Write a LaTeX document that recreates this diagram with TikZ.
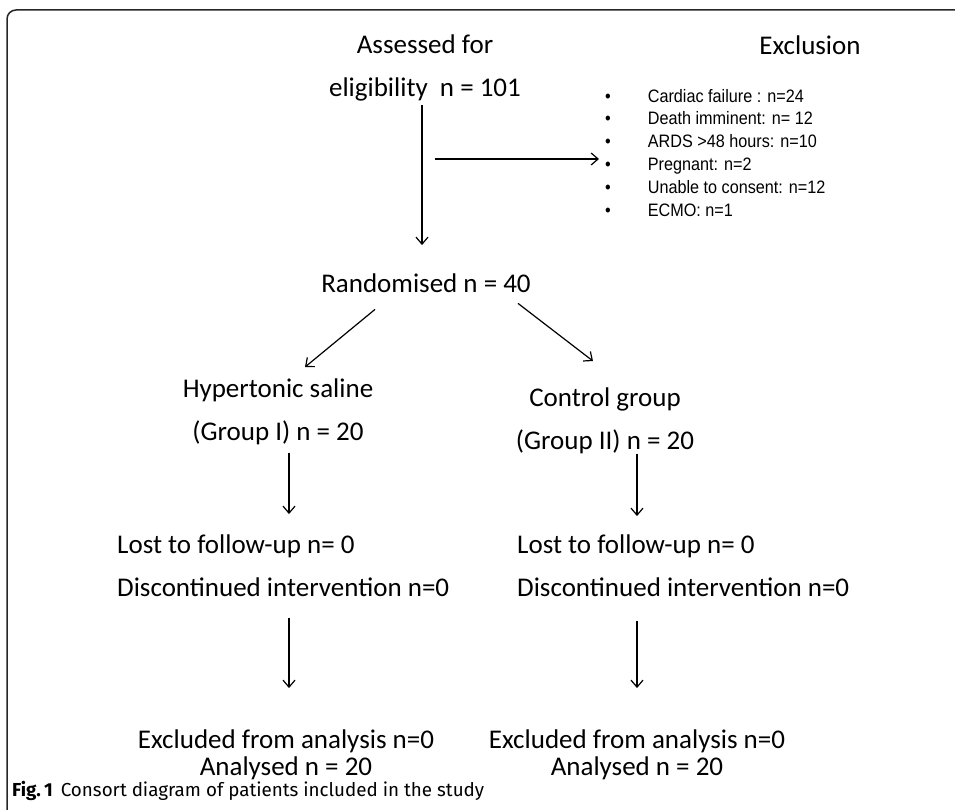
\documentclass[tikz,border=0pt]{standalone}
\usepackage{fontspec}
\setmainfont{Carlito}
\newfontfamily\listfont[FakeStretch=0.9]{Liberation Sans}
\newfontfamily\capfont{Fira Sans}
\usetikzlibrary{arrows.meta}

\begin{document}
\begin{tikzpicture}[x=1pt,y=-1pt,
  lbl/.style={font=\fontsize{27}{43}\selectfont, align=center, inner sep=0pt, anchor=base},
  arr/.style={->, >={Straight Barb[length=7pt,width=12pt]}, line width=1.2pt}]
\clip (0,0) rectangle (955,810);
\draw[line width=1.5pt, black!85, rounded corners=9pt] (1000,10) -- (7,10) -- (7,818) -- (60,818);

%top
\node[lbl] (assess) at (425,97) {Assessed for\\eligibility~~n = 101};
\node[lbl] (exclhead) at (810,55) {Exclusion};
\node[anchor=north west, inner sep=0pt, font=\listfont\fontsize{18}{22.8}\selectfont] (excl) at (605,86)
  {\begin{tabular}{@{}l@{\hspace{37pt}}l@{}}
  \textbullet & Cardiac failure : n=24\\
  \textbullet & Death imminent: n= 12\\
  \textbullet & ARDS >48 hours: n=10\\
  \textbullet & Pregnant: n=2\\
  \textbullet & Unable to consent: n=12\\
  \textbullet & ECMO: n=1
  \end{tabular}};
\node[lbl] (rand) at (426,292) {Randomised n = 40};
\coordinate (split) at (435,159);

%groups
\node[lbl] (hyper) at (278,440) {Hypertonic saline\\(Group I) n = 20};
\node[lbl] (control) at (605,449) {Control group\\(Group II) n = 20};
\node[lbl, align=left, anchor=base west] (lostL) at (117,596) {Lost to follow-up n= 0\\Discontinued intervention n=0};
\node[lbl, align=left, anchor=base west] (lostR) at (517,596) {Lost to follow-up n= 0\\Discontinued intervention n=0};
\node[lbl] (exclL) at (286,775) {Excluded from analysis n=0\\[-16pt]Analysed n = 20};
\node[lbl] (exclR) at (637,775) {Excluded from analysis n=0\\[-16pt]Analysed n = 20};

\draw[arr, shorten <=3pt, shorten >=28pt] ([xshift=-3pt]assess.south) -- ([xshift=-3pt]assess.south |- rand.north);
\draw[arr, shorten >=6pt] (split) -- (split -| excl.west);
\draw[arr] ([xshift=-51pt,yshift=-17pt]rand.south) -- ([xshift=27pt,yshift=11pt]hyper.north);
\draw[arr] ([xshift=92pt,yshift=-11pt]rand.south) -- ([xshift=-12pt,yshift=26pt]control.north);
\draw[arr, shorten <=8pt, shorten >=20pt] ([xshift=11pt]hyper.south) -- ([xshift=11pt]hyper.south |- lostL.north);
\draw[arr, shorten <=0pt, shorten >=18pt] ([xshift=32pt]control.south) -- ([xshift=32pt]control.south |- lostR.north);
\draw[arr, shorten <=22pt, shorten >=41pt] ([xshift=3pt]exclL.north |- lostL.south) -- ([xshift=3pt]exclL.north);
\draw[arr, shorten <=25pt, shorten >=41pt] (exclR.north |- lostR.south) -- (exclR.north);

\node[anchor=base west, inner sep=0pt, font=\capfont\fontsize{18.8}{20}\selectfont] (cap) at (12,796)
  {\textbf{Fig.\,1}\hspace{8pt}Consort diagram of patients included in the study};
\end{tikzpicture}
\end{document}
